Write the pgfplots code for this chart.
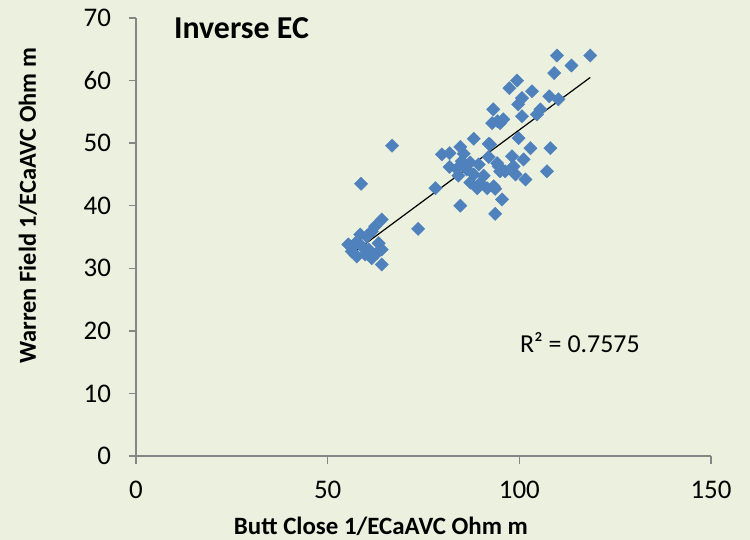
\documentclass[border=0pt]{standalone}
\usepackage{pgfplots}
\pgfplotsset{compat=1.18}
\usepackage{fontspec}
\setmainfont{Carlito}
\definecolor{bgc}{RGB}{235,241,222}
\definecolor{ptc}{RGB}{79,129,189}
\definecolor{axc}{RGB}{134,134,134}
\begin{document}
\begin{tikzpicture}
\fill[bgc] (-136bp,-84bp) rectangle (614bp,456bp);
\path[use as bounding box] (-136bp,-84bp) rectangle (614bp,456bp);
\begin{axis}[
  at={(0,0)}, anchor=south west,
  scale only axis, width=575bp, height=438bp,
  xmin=0, xmax=150, ymin=0, ymax=70,
  xtick={0,50,100,150}, ytick={0,10,20,30,40,50,60,70},
  axis x line=bottom, axis y line=left,
  axis line style={-, axc, line width=1.5pt},
  tick style={axc, line width=1.5pt},
  tick align=outside, major tick length=7.5bp,
  /pgf/number format/assume math mode=true,
  ticklabel style={font=\fontsize{27}{31}\selectfont, text=black},
  xticklabel style={yshift=-14bp},
  yticklabel style={xshift=-14bp},
  xlabel={Butt Close 1/ECaAVC Ohm m},
  ylabel={Warren Field 1/ECaAVC Ohm m},
  xlabel style={font=\bfseries\fontsize{25}{29}\selectfont, at={(axis description cs:0.426,-0.160)}, anchor=center},
  ylabel style={font=\bfseries\fontsize{24.5}{28}\selectfont, at={(axis description cs:-0.188,0.571)}, anchor=center, rotate=0},
  clip=false,
]
\addplot[only marks, mark=square*, mark size=4.7bp, mark options={rotate=45, fill=ptc, draw=ptc}] coordinates {
(109.8,64.0) (118.5,64.0) (113.6,62.4) (109.1,61.2) (99.4,60.0) (97.4,58.8)
(103.3,58.3) (100.7,57.2) (99.7,56.2) (107.8,57.5) (110.2,57.0) (93.2,55.4)
(95.8,53.8) (94.3,53.5) (100.7,54.3) (105.5,55.4) (104.6,54.6)
(99.8,50.8) (102.9,49.2) (108.1,49.2) (98.1,47.9) (101.1,47.4) (94.2,46.8)
(98.5,46.3) (95.0,45.5) (107.2,45.5) (101.6,44.2) (93.3,43.1) (95.5,41.0)
(92.4,49.8) (95.0,53.2)
(79.8,48.2) (81.8,48.4) (81.8,46.2) (84.6,49.4) (85.5,48.3) (88.1,50.7)
(85.0,47.1) (87.2,46.9) (89.4,46.6) (92.0,49.9) (92.0,47.8) (92.9,53.2)
(84.1,44.8) (88.1,45.0) (78.1,42.8) (87.2,43.7) (89.8,43.6) (91.6,42.8)
(93.7,42.7) (84.6,40.0) (93.7,38.7) (94.6,46.3) (96.3,45.5) (83.7,45.9)
(86.3,45.8) (90.7,44.8) (89.0,42.8) (99.0,45.0)
(64.1,37.8) (62.4,36.7) (61.5,35.9) (58.5,35.4) (60.2,35.1) (55.4,33.8)
(57.2,34.0) (56.3,32.7) (58.9,33.5) (60.7,33.0) (63.3,34.0) (64.1,33.0)
(59.8,32.2) (61.5,31.6) (62.8,32.4) (64.1,30.6) (57.6,31.9)
(58.7,43.5) (66.8,49.6) (73.6,36.3)
};
\addplot[black, line width=1.2pt] coordinates {(55.6,32.0) (118.5,60.5)};
\node[anchor=west, font=\bfseries\fontsize{32}{36}\selectfont] at (axis description cs:0.060,0.977) {Inverse EC};
\node[anchor=center, font=\fontsize{26}{30}\selectfont] at (axis description cs:0.772,0.258) {R² = 0.7575};
\end{axis}
\end{tikzpicture}
\end{document}
